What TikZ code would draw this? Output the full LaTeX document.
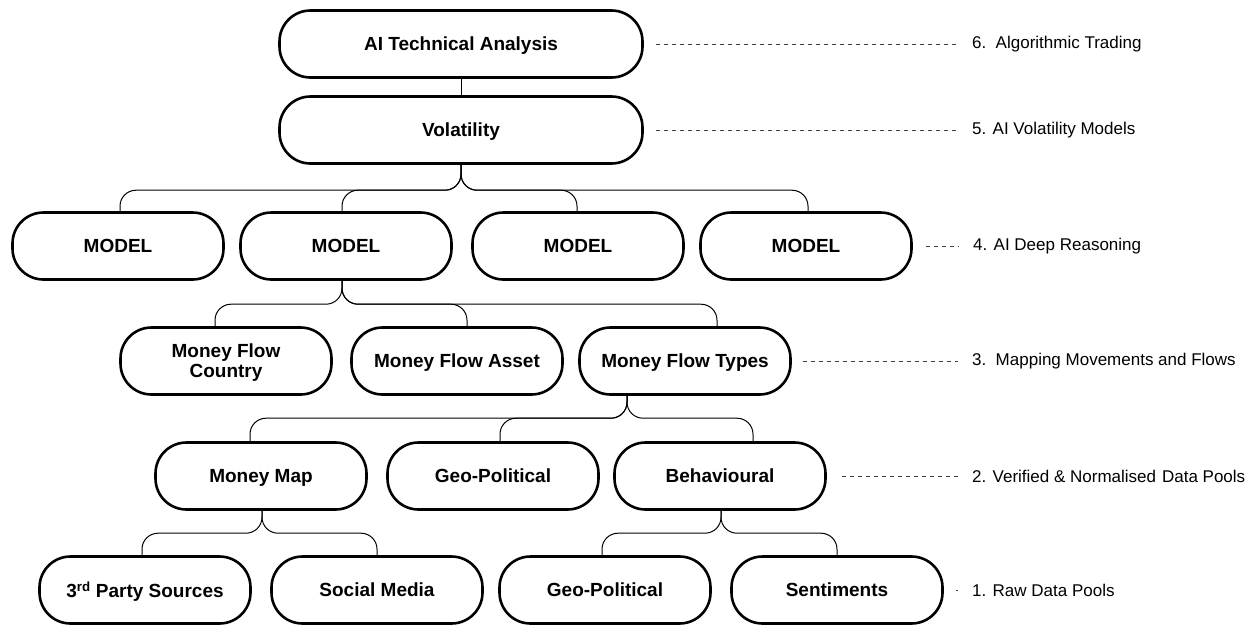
\documentclass[tikz,border=0pt]{standalone}
\usepackage{fontspec}
\setmainfont{Liberation Sans}
\begin{document}
\begin{tikzpicture}[x=1pt,y=-1pt,
  box/.style={draw=black, line width=2.6pt, rounded corners=31pt,
    minimum width=211pt, minimum height=67pt, inner sep=0pt,
    font=\fontsize{19}{20}\selectfont\bfseries, align=center, text=black,
    text depth=0pt},
  wide/.style={box, minimum width=363pt},
  conn/.style={line width=1pt, rounded corners=16pt},
  guide/.style={line width=0.9pt, dash pattern=on 4pt off 4pt, black!75},
  tag/.style={anchor=west, inner sep=0pt, font=\fontsize{17}{19}\selectfont, text=black}
]
\useasboundingbox (0,0) rectangle (1258,624);

% top of the hierarchy
\node[wide] (ata) at (461,44)  {AI Technical Analysis};
\node[wide] (vol) at (461,130) {Volatility};

% models
\node[box] (m1) at (118,246) {MODEL};
\node[box] (m2) at (346,246) {MODEL};
\node[box] (m3) at (578,246) {MODEL};
\node[box] (m4) at (806,246) {MODEL};

% money flows
\node[box] (mfc) at (226,361) {Money Flow\\Country};
\node[box] (mfa) at (457,361) {Money Flow Asset};
\node[box] (mft) at (685,361) {Money Flow Types};

% data pools
\node[box] (mm)  at (261,476) {Money Map};
\node[box] (gp)  at (493,476) {Geo-Political};
\node[box] (beh) at (720,476) {Behavioural};

% raw sources
\node[box] (tps) at (145,590) {3\textsuperscript{rd} Party Sources};
\node[box] (sm)  at (377,590) {Social Media};
\node[box] (gp2) at (605,590) {Geo-Political};
\node[box] (sen) at (837,590) {Sentiments};

% tree connectors
\draw[line width=1pt] (ata.south) -- (vol.north);

\draw[conn] (vol.south) |- ([xshift=2pt,yshift=21pt]m1.north) -- ([xshift=2pt]m1.north);
\draw[conn] (vol.south) |- ([xshift=-4pt,yshift=21pt]m2.north) -- ([xshift=-4pt]m2.north);
\draw[conn] (vol.south) |- ([xshift=-1pt,yshift=21pt]m3.north) -- ([xshift=-1pt]m3.north);
\draw[conn] (vol.south) |- ([xshift=2pt,yshift=21pt]m4.north) -- ([xshift=2pt]m4.north);

\draw[conn] ([xshift=-4pt]m2.south) |- ([xshift=-11pt,yshift=22pt]mfc.north) -- ([xshift=-11pt]mfc.north);
\draw[conn] ([xshift=-4pt]m2.south) |- ([xshift=10pt,yshift=22pt]mfa.north) -- ([xshift=10pt]mfa.north);
\draw[conn] ([xshift=-4pt]m2.south) |- ([xshift=32pt,yshift=22pt]mft.north) -- ([xshift=32pt]mft.north);

\draw[conn] ([xshift=-58pt]mft.south) |- ([xshift=-11pt,yshift=23pt]mm.north) -- ([xshift=-11pt]mm.north);
\draw[conn] ([xshift=-58pt]mft.south) |- ([xshift=7pt,yshift=23pt]gp.north) -- ([xshift=7pt]gp.north);
\draw[conn] ([xshift=-58pt]mft.south) |- ([xshift=33pt,yshift=23pt]beh.north) -- ([xshift=33pt]beh.north);

\draw[conn] ([xshift=1pt]mm.south) |- ([xshift=-3pt,yshift=22pt]tps.north) -- ([xshift=-3pt]tps.north);
\draw[conn] ([xshift=1pt]mm.south) |- ([xshift=0pt,yshift=22pt]sm.north) -- ([xshift=0pt]sm.north);

\draw[conn] ([xshift=1pt]beh.south) |- ([xshift=-3pt,yshift=22pt]gp2.north) -- ([xshift=-3pt]gp2.north);
\draw[conn] ([xshift=1pt]beh.south) |- ([xshift=0pt,yshift=22pt]sen.north) -- ([xshift=0pt]sen.north);

% level captions
\node[tag] (l6) at (972,44)  {6.\hspace{0.55em}Algorithmic Trading};
\node[tag] (l5) at (972,130) {5. AI Volatility Models};
\node[tag] (l4) at (973,246) {4. AI Deep Reasoning};
\node[tag] (l3) at (972,361) {3.\hspace{0.55em}Mapping Movements and Flows};
\node[tag] (l2) at (972,476) {2. Verified \& Normalised\hspace{0.35em}Data Pools};
\node[tag] (l1) at (972,590) {1. Raw Data Pools};

\draw[guide] ([xshift=12pt]ata.east) -- ([xshift=-14pt]l6.west);
\draw[guide] ([xshift=12pt]vol.east) -- ([xshift=-14pt]l5.west);
\draw[guide] ([xshift=13pt]m4.east)  -- ([xshift=-15pt]l4.west);
\draw[guide] ([xshift=11pt]mft.east) -- ([xshift=-14pt]l3.west);
\draw[guide] ([xshift=15pt]beh.east) -- ([xshift=-14pt]l2.west);
\draw[guide] ([xshift=12pt]sen.east) -- ([xshift=-14pt]l1.west);
\end{tikzpicture}
\end{document}
